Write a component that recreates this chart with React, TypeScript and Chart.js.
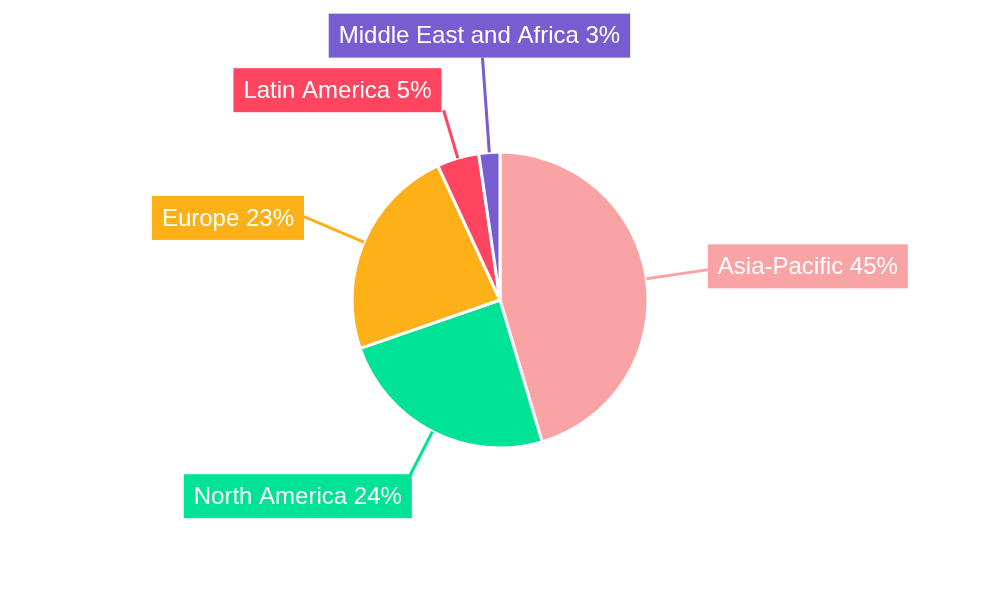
import React, { useEffect, useRef } from "react";
import { Chart, registerables } from "chart.js";

Chart.register(...registerables);

const regions = ["Asia-Pacific", "North America", "Europe", "Latin America", "Middle East and Africa"];
const shares = [45.4, 24.3, 23.4, 4.6, 2.3];
const shownPercents = [45, 24, 23, 5, 3];
const colors = ["#F9A3A4", "#00E396", "#FEB019", "#FF4560", "#775DD0"];

// label placement styling: leader length beyond the arc, and where the leader meets the box (fractions)
const leaderExt = [63, 54, 65, 50, 95];
const boxAnchorX = [0.005, 0.982, 1, 1.01, 0.51];
const boxAnchorY = [0.575, 0.125, 0.47, 0.955, 1];

const labelPlugin = {
  id: "calloutLabels",
  afterDatasetsDraw(chart: any) {
    const ctx = chart.ctx;
    const meta = chart.getDatasetMeta(0);
    ctx.save();
    ctx.font = "24px 'Liberation Sans', Arial, sans-serif";
    ctx.textBaseline = "middle";
    meta.data.forEach((arc: any, i: number) => {
      const p = arc.getProps(["x", "y", "startAngle", "endAngle", "outerRadius"], true);
      const mid = (p.startAngle + p.endAngle) / 2;
      const r0 = p.outerRadius;
      const r1 = r0 + leaderExt[i];
      const sx = p.x + Math.cos(mid) * r0;
      const sy = p.y + Math.sin(mid) * r0;
      const ex = p.x + Math.cos(mid) * r1;
      const ey = p.y + Math.sin(mid) * r1;
      ctx.strokeStyle = colors[i];
      ctx.lineWidth = 3;
      ctx.beginPath();
      ctx.moveTo(sx, sy);
      ctx.lineTo(ex, ey);
      ctx.stroke();
      const text = `${regions[i]} ${shownPercents[i]}%`;
      const tw = ctx.measureText(text).width;
      const w = tw + 20;
      const h = 44;
      const left = ex - boxAnchorX[i] * w;
      const top = ey - boxAnchorY[i] * h;
      ctx.fillStyle = colors[i];
      ctx.fillRect(left, top, w, h);
      ctx.fillStyle = "#ffffff";
      ctx.textAlign = "left";
      ctx.fillText(text, left + 10, top + h / 2 + 1);
    });
    ctx.restore();
  },
};

export default function App() {
  const ref = useRef<HTMLCanvasElement>(null);
  useEffect(() => {
    document.body.style.margin = "0";
    const chart = new Chart(ref.current!, {
      type: "pie",
      data: {
        labels: regions,
        datasets: [
          {
            data: shares,
            backgroundColor: colors,
            borderColor: "#ffffff",
            borderWidth: 3,
            hoverOffset: 0,
          },
        ],
      },
      options: {
        responsive: false,
        animation: false,
        radius: 148,
        layout: { padding: 0 },
        plugins: {
          legend: { display: false },
          tooltip: { enabled: false },
        },
      } as any,
      plugins: [labelPlugin],
    });
    return () => chart.destroy();
  }, []);
  return (
    <div style={{ width: 1000, height: 600, background: "#ffffff" }}>
      <canvas ref={ref} width={1000} height={600} />
    </div>
  );
}
